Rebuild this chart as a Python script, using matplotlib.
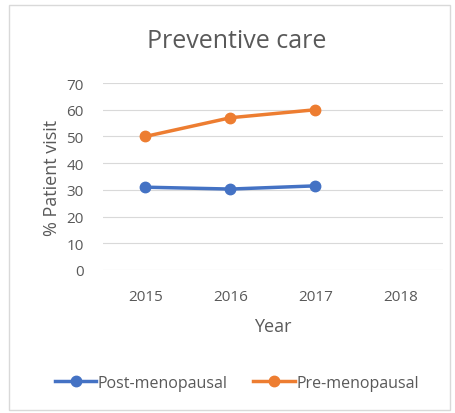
import numpy as np
import matplotlib.pyplot as plt
from matplotlib.patches import Rectangle

years = ['2015', '2016', '2017', '2018']
post_meno = [31.0, 30.3, 31.5]
pre_meno = [50.0, 57.0, 60.0]

plt.rcParams['font.family'] = ['Open Sans', 'DejaVu Sans']
gray = '#595959'

fig = plt.figure(figsize=(4.56, 4.14), dpi=100)
fig.patches.append(Rectangle((9 / 456, 1 - 411 / 414), 441 / 456, 405 / 414,
                             transform=fig.transFigure, fill=False,
                             edgecolor='#D9D9D9', linewidth=1))

ax = fig.add_axes([103 / 456, 1 - 271 / 414, 340 / 456, 187 / 414])
x = np.arange(len(years))
ax.plot(x[:len(post_meno)], post_meno, color='#4472C4', linewidth=2.5,
        marker='o', markersize=7.5, label='Post-menopausal')
ax.plot(x[:len(pre_meno)], pre_meno, color='#ED7D31', linewidth=2.5,
        marker='o', markersize=7.5, label='Pre-menopausal')

ax.set_xlim(-0.5, 3.5)
ax.set_ylim(0, 70)
ax.set_yticks(range(0, 71, 10))
ax.set_xticks(x)
ax.set_xticklabels(years)
ax.grid(axis='y', color='#D9D9D9', linewidth=0.8)
ax.set_axisbelow(True)
for s in ax.spines.values():
    s.set_visible(False)
ax.tick_params(length=0, colors=gray, labelsize=11)
ax.tick_params(axis='y', pad=14)
ax.tick_params(axis='x', pad=14)

fig.text(237 / 456, 1 - 42 / 414, 'Preventive care', fontsize=18,
         color=gray, ha='center', va='center')
ax.set_xlabel('Year', fontsize=13, color=gray, labelpad=9)
ax.set_ylabel('% Patient visit', fontsize=13, color=gray, labelpad=4)

fig.legend(loc='center', bbox_to_anchor=(237 / 456, 1 - 384 / 414), ncol=2,
           frameon=False, fontsize=11.5, labelcolor=gray, handlelength=2.6,
           columnspacing=1.6, handletextpad=0.1)

fig.savefig('out.png', dpi=100)
